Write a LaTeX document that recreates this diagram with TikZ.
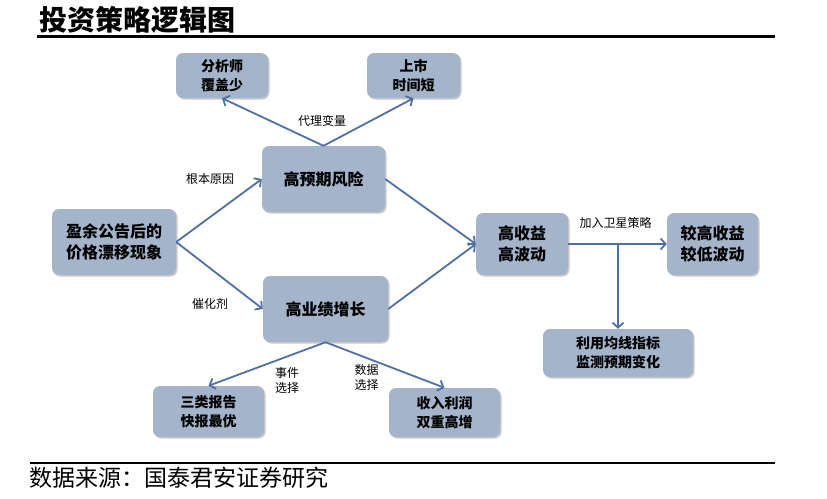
\documentclass[tikz,border=0pt]{standalone}
\usepackage{fontspec}
\newfontfamily\cjk{Noto Sans CJK SC}
\usetikzlibrary{arrows.meta,shadows}
\definecolor{boxfill}{RGB}{164,180,203}
\definecolor{arrowc}{RGB}{79,112,164}
\tikzset{
  box/.style={draw=none, fill=boxfill, rounded corners=7pt, align=center,
    font=\cjk\bfseries, inner sep=0pt,
    drop shadow={shadow xshift=1.5pt, shadow yshift=-1.5pt, opacity=0.35, fill=black!60}},
  bigtxt/.style={font=\cjk\bfseries\fontsize{16}{21}\selectfont},
  smalltxt/.style={font=\cjk\bfseries\fontsize{14}{19}\selectfont},
  lbl/.style={font=\cjk\fontsize{12}{15}\selectfont, align=center, inner sep=0pt},
  conn/.style={draw=arrowc, line width=1.8pt, -{Straight Barb[length=5pt,width=11pt,line width=1.8pt]}},
}
\begin{document}
\begin{tikzpicture}[x=1pt,y=-1pt]
\useasboundingbox (0,0) rectangle (827,498);
% title and rules
\node[font=\cjk\bfseries\fontsize{28}{30}\selectfont, anchor=west, inner sep=0pt] (title) at (39,19.5) {投资策略逻辑图};
\draw[line width=3pt] (37,36) -- (775,36);
\draw[line width=2.5pt] (30,463) -- (775,463);
\node[font=\cjk\fontsize{23}{25}\selectfont, anchor=west, inner sep=0pt] (src) at (29,478) {数据来源：国泰君安证券研究};
% boxes
\node[box, smalltxt, minimum width=92pt, minimum height=45pt] (ana) at (222,75.5) {分析师\\覆盖少};
\node[box, smalltxt, minimum width=93pt, minimum height=45pt] (ipo) at (413.5,75.5) {上市\\时间短};
\node[box, bigtxt, minimum width=123pt, minimum height=66pt] (risk) at (323.5,179) {高预期风险};
\node[box, bigtxt, minimum width=124pt, minimum height=66pt] (drift) at (114,242) {盈余公告后的\\价格漂移现象};
\node[box, bigtxt, minimum width=125pt, minimum height=66pt] (growth) at (325.5,309) {高业绩增长};
\node[box, bigtxt, minimum width=92pt, minimum height=62pt] (hret) at (522,244) {高收益\\高波动};
\node[box, bigtxt, minimum width=91pt, minimum height=62pt] (better) at (712.5,244) {较高收益\\较低波动};
\node[box, smalltxt, minimum width=150pt, minimum height=48pt] (ma) at (618,353) {利用均线指标\\监测预期变化};
\node[box, smalltxt, minimum width=111pt, minimum height=51pt] (three) at (208.5,411.5) {三类报告\\快报最优};
\node[box, smalltxt, minimum width=111pt, minimum height=49pt] (rev) at (444.5,412.5) {收入利润\\双重高增};
% connectors
\draw[conn] (risk.north) -- (ana.south);
\draw[conn] (risk.north) -- (ipo.south);
\draw[conn] (drift.east) -- (risk.west);
\draw[conn] (drift.east) -- (growth.west);
\draw[conn] (risk.east) -- (hret.west);
\draw[conn] (growth.east) -- (hret.west);
\draw[conn] (hret.east) -- (better.west);
\coordinate (split) at (hret.east -| ma.north);
\draw[conn] (split) -- (ma.north);
\draw[conn] (growth.south) -- (three.north);
\draw[conn] (growth.south) -- (rev.north);
% labels
\node[lbl] (l1) at (322,121) {代理变量};
\node[lbl] (l2) at (210,179) {根本原因};
\node[lbl] (l3) at (210,304) {催化剂};
\node[lbl] (l4) at (615.5,223) {加入卫星策略};
\node[lbl] (l5) at (287,380) {事件\\选择};
\node[lbl] (l6) at (366.5,377) {数据\\选择};
\end{tikzpicture}
\end{document}
